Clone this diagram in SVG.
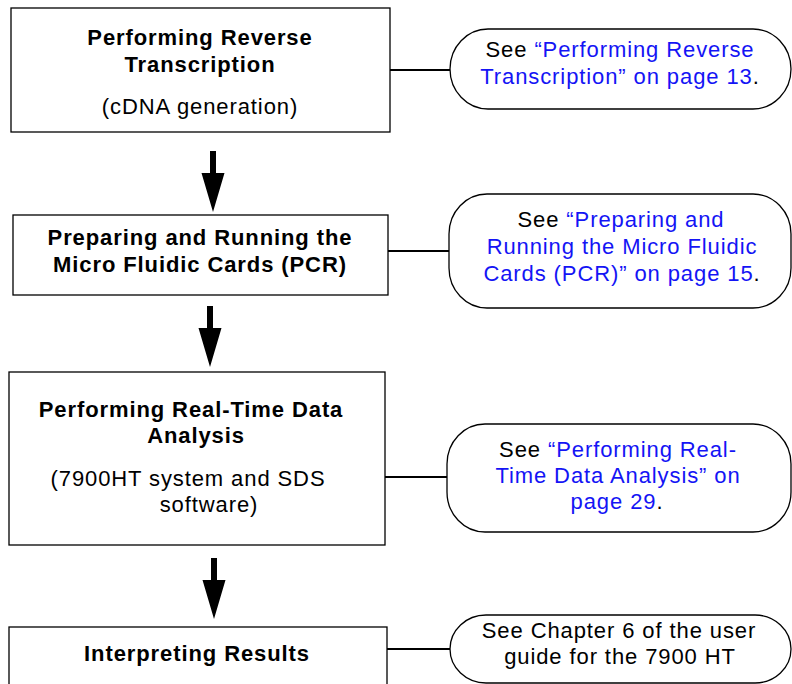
<svg xmlns="http://www.w3.org/2000/svg" xmlns:xlink="http://www.w3.org/1999/xlink" width="792" height="684" viewBox="0 0 792 684">
<style>
.box{fill:#fff;stroke:#000;stroke-width:1.3}
.pill{fill:#fff;stroke:#000;stroke-width:1.3}
.conn{stroke:#000;stroke-width:2;fill:none}
text{font-family:"Liberation Sans",Arial,Helvetica,sans-serif;font-size:22px;fill:#000;text-anchor:middle;letter-spacing:0.9px}
.b{font-weight:bold}
.lnk{fill:#1414f5}
</style>
<defs>
<path id="arrow" d="M-3,0 H3 V22 H11.5 L0,61 L-11.5,22 H-3 Z" fill="#000"/>
</defs>
<rect width="792" height="684" fill="#fff"/>
<g id="connectors">
<line class="conn" x1="390" y1="70" x2="450" y2="70"/>
<line class="conn" x1="388" y1="251" x2="449" y2="251"/>
<line class="conn" x1="385" y1="477" x2="447" y2="477"/>
<line class="conn" x1="387" y1="649" x2="450" y2="649"/>
<use xlink:href="#arrow" x="213" y="151"/>
<use xlink:href="#arrow" x="210" y="306"/>
<use xlink:href="#arrow" x="214" y="558"/>
</g>
<g id="step1">
<rect class="box" x="11" y="8" width="379" height="124"/>
<text class="b" x="200" y="45">Performing Reverse</text>
<text class="b" x="200" y="72">Transcription</text>
<text x="200" y="114">(cDNA generation)</text>
</g>
<g id="ref1">
<rect class="pill" x="450" y="29" width="341" height="80" rx="38" ry="40"/>
<text x="620" y="57">See <tspan class="lnk">“Performing Reverse</tspan></text>
<text x="620" y="84"><tspan class="lnk">Transcription” on page 13</tspan>.</text>
</g>
<g id="step2">
<rect class="box" x="13" y="215" width="375" height="80"/>
<text class="b" x="200" y="245">Preparing and Running the</text>
<text class="b" x="200" y="272">Micro Fluidic Cards (PCR)</text>
</g>
<g id="ref2">
<rect class="pill" x="449" y="194" width="342" height="114" rx="38" ry="40"/>
<text x="621" y="227">See <tspan class="lnk">“Preparing and</tspan></text>
<text x="622" y="254"><tspan class="lnk">Running the Micro Fluidic</tspan></text>
<text x="622" y="281"><tspan class="lnk">Cards (PCR)” on page 15</tspan>.</text>
</g>
<g id="step3">
<rect class="box" x="9" y="372" width="376" height="173"/>
<text class="b" x="191" y="417">Performing Real-Time Data</text>
<text class="b" x="196" y="443">Analysis</text>
<text x="188" y="486">(7900HT system and SDS</text>
<text x="209" y="512">software)</text>
</g>
<g id="ref3">
<rect class="pill" x="447" y="424" width="344" height="108" rx="38" ry="40"/>
<text x="618" y="457">See <tspan class="lnk">“Performing Real-</tspan></text>
<text x="618" y="483"><tspan class="lnk">Time Data Analysis” on</tspan></text>
<text x="617" y="509"><tspan class="lnk">page 29</tspan>.</text>
</g>
<g id="step4">
<rect class="box" x="9" y="627" width="378" height="80"/>
<text class="b" x="197" y="661">Interpreting Results</text>
</g>
<g id="ref4">
<rect class="pill" x="450" y="615" width="341" height="68" rx="36" ry="34"/>
<text x="619" y="638">See Chapter 6 of the user</text>
<text x="620" y="664">guide for the 7900 HT</text>
</g>
</svg>
